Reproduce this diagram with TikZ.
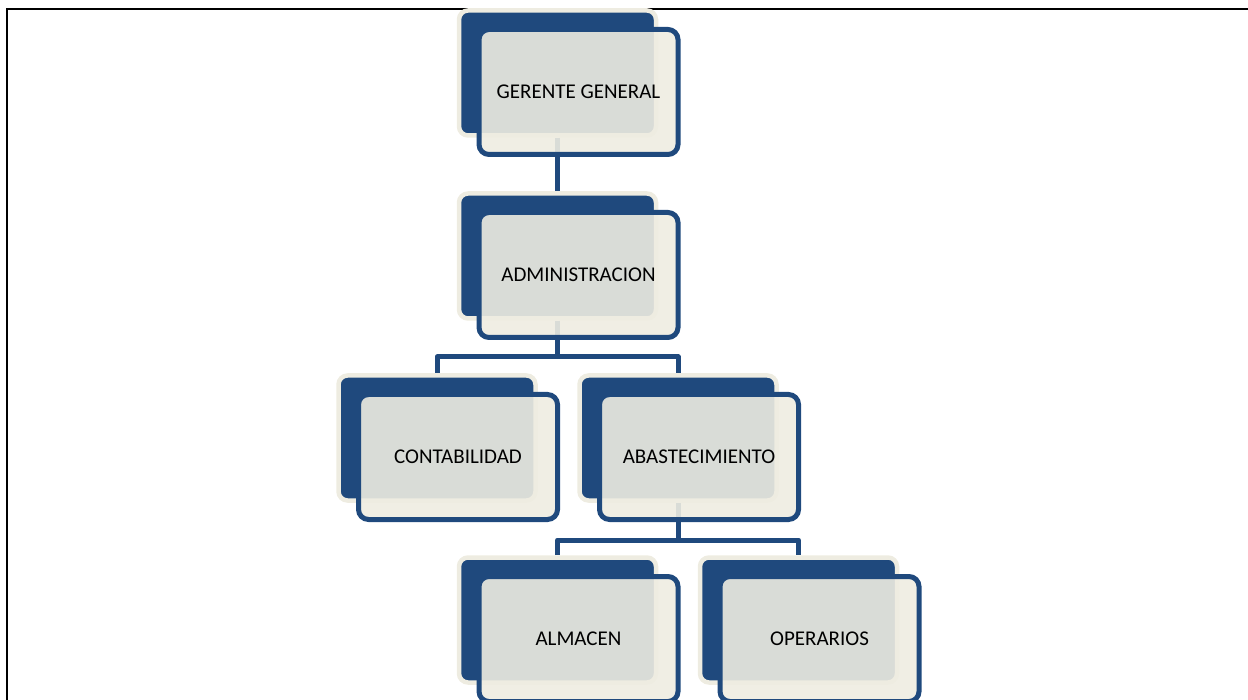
\documentclass[tikz,border=0pt]{standalone}
\usepackage{fontspec}
\setmainfont{Carlito}
\usetikzlibrary{backgrounds}
\definecolor{boxblue}{HTML}{1F497D}
\definecolor{boxcream}{HTML}{EEECE1}
\begin{document}
\begin{tikzpicture}[x=1pt,y=-1pt,
  backbox/.style={draw=boxcream, fill=boxblue, line width=4.5pt, rounded corners=9pt,
    minimum width=197pt, minimum height=125pt, inner sep=0pt},
  frontbox/.style={draw=boxblue, fill=boxcream, fill opacity=0.9, text opacity=1, draw opacity=1,
    line width=5pt, rounded corners=10pt, minimum width=199pt, minimum height=125pt,
    inner sep=0pt, text=black, font=\fontsize{21}{25}\selectfont},
  conn/.style={draw=boxblue, line width=5pt, line join=round},
  frameline/.style={draw=black, line width=2pt}]
\useasboundingbox (0,0) rectangle (1248,700);
\coordinate (fa) at (7,700);
\coordinate (fb) at (7,8.7);
\coordinate (fc) at (1248,8.7);
\draw[frameline] (fa) -- (fb) -- (fc);

% level 1
\node[backbox] (gb) at (557.5,73) {};
\node[frontbox] (g) at (578.5,92) {GERENTE GENERAL};
% level 2
\node[backbox] (ab) at (557.5,256) {};
\node[frontbox] (a) at (578.5,275) {ADMINISTRACION};
% level 3
\node[backbox] (cb) at (437,438) {};
\node[frontbox] (c) at (458,457) {CONTABILIDAD};
\node[backbox] (sb) at (678,438) {};
\node[frontbox] (s) at (699,457) {ABASTECIMIENTO};
% level 4
\node[backbox] (lb) at (557.5,620) {};
\node[frontbox] (l) at (578.5,639) {ALMACEN};
\node[backbox] (ob) at (798.5,620) {};
\node[frontbox] (o) at (819.5,639) {OPERARIOS};

\coordinate (bus1) at (557.5,357);
\coordinate (bus2) at (678,540);
\begin{scope}[on background layer]
\draw[conn] (gb.south) -- (ab.north);
\draw[conn] (ab.south) -- (bus1);
\draw[conn] (cb.north) |- (bus1) -| (sb.north);
\draw[conn] (sb.south) -- (bus2);
\draw[conn] (lb.north) |- (bus2) -| (ob.north);
\end{scope}
\end{tikzpicture}
\end{document}
